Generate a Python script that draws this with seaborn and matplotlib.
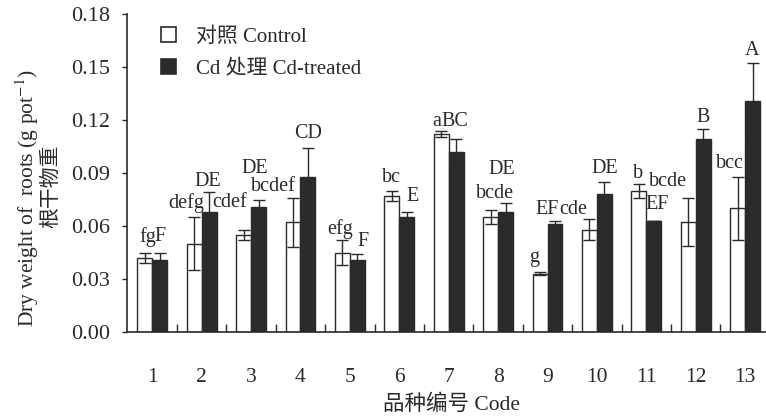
import numpy as np
import pandas as pd
import seaborn as sns
import matplotlib
matplotlib.use("Agg")
import matplotlib.pyplot as plt
from matplotlib.patches import Patch

# ---- data ----
codes = ["1", "2", "3", "4", "5", "6", "7", "8", "9", "10", "11", "12", "13"]
control = [0.042, 0.050, 0.055, 0.062, 0.045, 0.077, 0.112, 0.065, 0.033, 0.058, 0.080, 0.062, 0.070]
control_err = [0.003, 0.015, 0.003, 0.014, 0.007, 0.003, 0.0015, 0.004, 0.0007, 0.006, 0.004, 0.0136, 0.018]
cd_treated = [0.041, 0.068, 0.071, 0.088, 0.041, 0.065, 0.102, 0.068, 0.061, 0.078, 0.063, 0.109, 0.131]
cd_err = [0.004, 0.011, 0.004, 0.016, 0.003, 0.003, 0.0075, 0.005, 0.002, 0.007, 0.0, 0.006, 0.021]
control_letters = ["fg", "defg", "cdef", "bcdef", "efg", "bc", "a", "bcde", "g", "cde", "b", "bcde", "bcc"]
cd_letters = ["F", "DE", "DE", "CD", "F", "E", "BC", "DE", "EF", "DE", "EF", "B", "A"]
series = ["对照 Control", "Cd 处理 Cd-treated"]

# ---- letter placement (offset from bar centre, height above error cap) ----
control_dx = [0.05, -0.17, -0.28, -0.39, -0.05, 0.0, -0.10, 0.09, -0.12, -0.33, -0.02, -0.41, -0.16]
control_dy = [0.0088, 0.0082, 0.0152, 0.0062, 0.0063, 0.0072, 0.0055, 0.0095, 0.0082, 0.0054, 0.0058, 0.0095, 0.0075]
cd_dx = [0.01, -0.02, -0.07, 0.0, 0.12, 0.11, -0.02, -0.07, -0.16, 0.0, 0.07, 0.0, 0.0]
cd_dy = [0.0088, 0.0061, 0.0178, 0.0086, 0.0071, 0.0086, 0.0095, 0.0187, 0.0064, 0.0076, 0.0089, 0.0065, 0.0076]

df = pd.DataFrame({
    "code": codes * 2,
    "group": [series[0]] * len(codes) + [series[1]] * len(codes),
    "weight": control + cd_treated,
})

sns.set_style("ticks")
serif = ["Liberation Serif", "Noto Sans CJK SC"]
plt.rcParams["font.family"] = serif
plt.rcParams["mathtext.fontset"] = "stix"
ink = "#2a2a2a"
dark = "#2b2b2b"

fig = plt.figure(figsize=(7.66, 4.18), dpi=100)
fig.patch.set_facecolor("white")
ax = fig.add_axes([127 / 766, 1 - 332 / 418, 639 / 766, 318 / 418])

sns.barplot(data=df, x="code", y="weight", hue="group", order=codes,
            hue_order=series, palette=["white", dark], width=0.6, gap=0,
            edgecolor=ink, linewidth=1.0, errorbar=None, legend=False, ax=ax)

# error bars and significance letters on each hue's bars
for cont, vals, errs, letters, dxs, dys in [
    (ax.containers[0], control, control_err, control_letters, control_dx, control_dy),
    (ax.containers[1], cd_treated, cd_err, cd_letters, cd_dx, cd_dy),
]:
    xs = np.array([p.get_x() + p.get_width() / 2 for p in cont.patches])
    ax.errorbar(xs, vals, yerr=errs, fmt="none", ecolor=ink, elinewidth=1.0,
                capsize=4.2, capthick=1.0, zorder=3)
    for x, v, e, lab, dx, dy in zip(xs, vals, errs, letters, dxs, dys):
        ax.text(x + dx, v + e + dy, lab, ha="center", va="center",
                fontsize=14.5, color=ink, family=serif)

ax.set_xlim(-0.512, 12.423)
ax.set_ylim(0, 0.18)
ax.set_yticks([0.0, 0.03, 0.06, 0.09, 0.12, 0.15, 0.18])
ax.set_yticklabels([f"{t:.2f}" for t in ax.get_yticks()])
ax.set_xlabel("")
ax.set_ylabel("")

ax.set_xticks(np.arange(0.5, 12, 1.0), minor=True)
ax.tick_params(axis="x", which="major", length=0, pad=26, labelsize=15.5, labelcolor=ink)
ax.tick_params(axis="x", which="minor", direction="in", length=5.5, width=1.0, color=ink)
ax.tick_params(axis="y", which="major", direction="out", length=3.6, width=1.0,
               pad=8.5, labelsize=16, labelcolor=ink, color=ink)
for side in ("top", "right"):
    ax.spines[side].set_visible(False)
for side in ("left", "bottom"):
    ax.spines[side].set_color(ink)
    ax.spines[side].set_linewidth(1.2)

handles = [Patch(facecolor="white", edgecolor=ink, linewidth=1.2),
           Patch(facecolor=dark, edgecolor=dark, linewidth=1.2)]
ax.legend(handles, series, loc="upper left", bbox_to_anchor=(161 / 766, 1 - 27 / 418),
          bbox_transform=fig.transFigure, frameon=False, fontsize=15,
          handlelength=0.72, handleheight=0.72, handletextpad=0.95,
          labelspacing=0.6, borderpad=0, borderaxespad=0, labelcolor=ink)

fig.text(27 / 766, 1 - 198 / 418, r"Dry weight of  roots (g pot$^{-1}$)", rotation=90,
         ha="center", va="center", fontsize=15.5, color=ink, family=serif)
fig.text(52 / 766, 1 - 186 / 418, "根干物重", rotation=90,
         ha="center", va="center", fontsize=15, color=ink, family=serif)
fig.text(452 / 766, 1 - 405 / 418, "品种编号 Code", ha="center", va="center",
         fontsize=15.5, color=ink, family=serif)

fig.savefig("out.png", dpi=100, facecolor="white")
